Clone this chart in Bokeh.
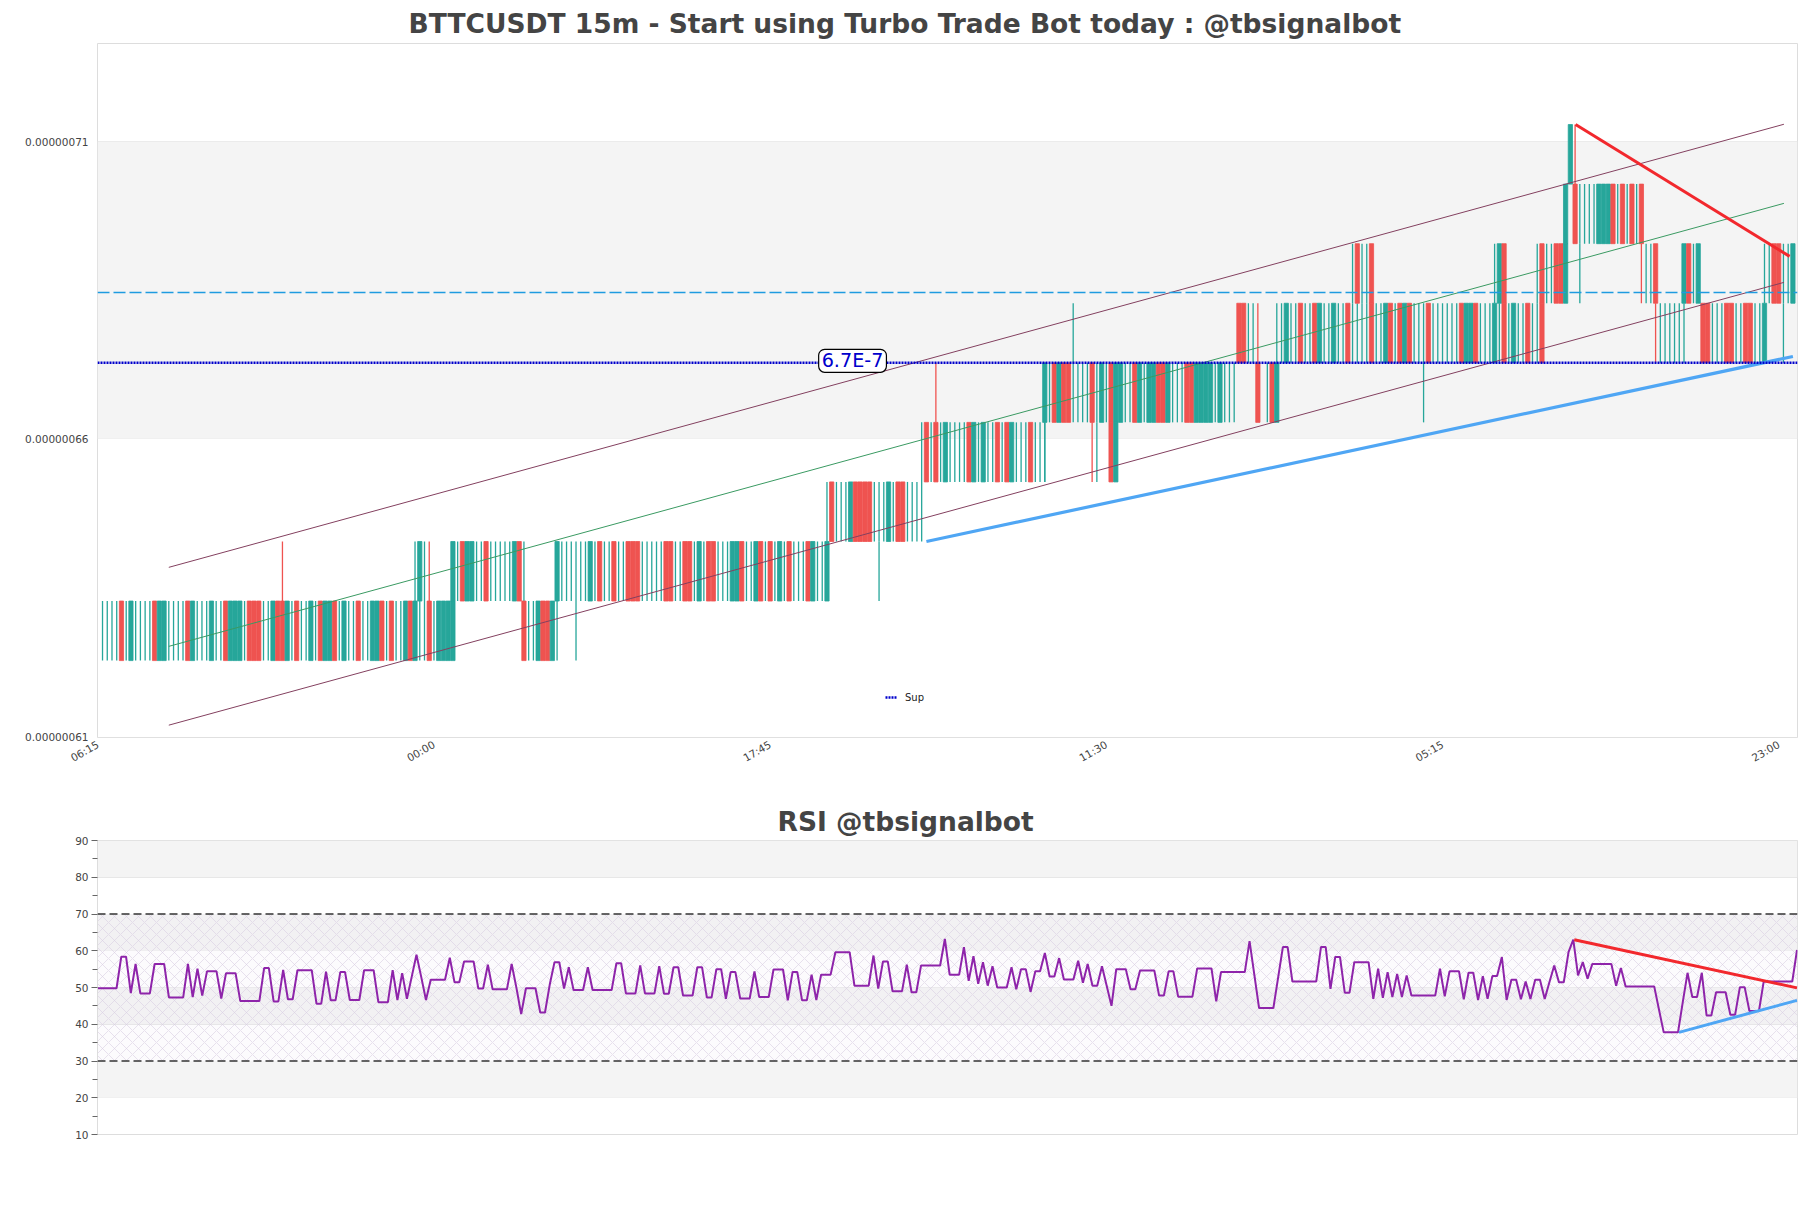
from bokeh.plotting import figure
from bokeh.layouts import column
from bokeh.models import BoxAnnotation, FixedTicker, Label, Range1d, Span, ColumnDataSource
from bokeh.embed import file_html
from bokeh.resources import INLINE

TITLE = "BTTCUSDT 15m - Start using Turbo Trade Bot today : @tbsignalbot"
RSI_TITLE = "RSI @tbsignalbot"
TEAL = "#26a69a"
RED = "#ef5350"
TEXT = "#444444"

# price levels of the tick grid (the asset only trades on these steps)
L = {62: 0.62e-6, 63: 0.63e-6, 64: 0.64e-6, 65: 0.65e-6, 66: 0.66e-6,
     67: 0.67e-6, 68: 0.68e-6, 69: 0.69e-6, 70: 0.70e-6, 71: 0.71e-6}

# candles read band by band: (first slot, band low, band high, pattern)
# g = up body, r = down body, l = doji at band low, t = doji at band high, . = nothing
bands = [
    (1, 62, 63, "llllrtgltllrgg" "llllrgtttgltrggg" "lrrrltgrrglrtlg" "lrggrtgllrtlggr" "trtlgrgltrlgggg"),
    (90, 62, 63, "rllgrrgl"),
    (67, 63, 64, "lgl"),
    (75, 63, 64, "glrggtlrllttlgrl"),
    (97, 63, 64, "gllllltg" "lrllrllrrr" "lllltrrllrrlglrr" "lllggrllgrlrlglr" "lllrgllg"),
    (154, 64, 65, "lrlllgrrrrlltglrrlltl"),
    (174, 65, 66, "lrlrlgllllrglgllrlrglllrlll"),
    (214, 65, 66, "rg"),
    (200, 66, 67, "glrgrrllllrlglrgg" "llrglggrrglllrr" "gggglglll"),
    (245, 66, 67, "r.lrg"),
    (241, 67, 68, "rrll"),
    (249, 67, 68, "llgllrllrg" "llgllrllllrllgr" "lrgrlllrllllllr" "ggrlllglrlgllrllr"),
    (330, 67, 68, "llllll"),
    (339, 67, 68, "rrlllrrllrrllg"),
    (265, 68, 69, "lrllr"),
    (295, 68, 69, "lgr"),
    (304, 68, 69, "lrllrrg"),
    (327, 68, 69, "llr"),
    (335, 68, 69, "grlg"),
    (352, 68, 69, "llrrllg"),
    (310, 69, 70, "g.rllllgggrlrlrlr"),
    (311, 70, 71, "g"),
]
# lone wicks: (slot, low, high, colour key)
wicks = [
    (39, 63, 64, "r"), (70, 63, 64, "r"), (101, 62, 63, "g"), (165, 63, 64, "g"),
    (177, 66, 67, "r"), (206, 67, 68, "g"), (200, 65, 66, "g"), (210, 65, 66, "r"),
    (211, 65, 66, "g"), (245, 67, 68, "r"), (280, 66, 67, "g"), (313, 68, 69, "g"),
    (326, 68, 69, "r"), (329, 67, 68, "r"), (356, 67, 68, "g"), (312, 70, 71, "r"),
]

channel_x = [15.0, 356.1]
channel_upper = [0.63566e-6, 0.71005e-6]
channel_mid = [0.62239e-6, 0.69677e-6]
channel_lower = [0.60916e-6, 0.6835e-6]
resistance_x = [312.1, 357.3]
resistance_y = [0.71e-6, 0.68787e-6]
support_x = [175.0, 358.0]
support_y = [0.64e-6, 0.67106e-6]
sup_level = 0.67e-6
res_dashed_level = 0.6818e-6

x_ticks = [0, 71, 142, 213, 284, 355]
x_tick_labels = ["06:15", "00:00", "17:45", "11:30", "05:15", "23:00"]
y_ticks = [0.60714e-6, 0.65723e-6, 0.70714e-6]
y_tick_labels = ["0.00000061", "0.00000066", "0.00000071"]

rsi = [
    49.8, 49.8, 49.8, 49.8, 49.8, 58.4, 58.4, 48.5, 56.4, 48.4, 48.4, 48.4, 56.4, 56.4, 56.4, 47.3, 47.3, 47.3, 47.3, 56.4,
    47.4, 55.1, 47.8, 54.4, 54.4, 54.4, 47.0, 53.9, 53.9, 53.9, 46.3, 46.3, 46.3, 46.3, 46.3, 55.3, 55.3, 46.2, 46.2, 54.8,
    46.8, 46.8, 54.7, 54.7, 54.7, 54.7, 45.6, 45.6, 54.3, 46.5, 46.5, 54.2, 54.2, 46.6, 46.6, 46.6, 54.7, 54.7, 54.7, 46.0,
    46.0, 46.0, 54.7, 46.6, 53.9, 46.9, 52.9, 58.9, 52.9, 46.6, 52.1, 52.1, 52.1, 52.1, 58.1, 51.4, 51.4, 57.1, 57.1, 57.1,
    49.7, 49.7, 56.2, 49.5, 49.5, 49.5, 49.5, 56.4, 49.9, 42.8, 49.8, 49.8, 49.8, 43.2, 43.2, 50.8, 56.9, 56.9, 49.7, 55.5,
    49.3, 49.3, 49.3, 55.5, 49.3, 49.3, 49.3, 49.3, 49.3, 56.6, 56.6, 48.4, 48.4, 48.4, 56.0, 48.4, 48.4, 48.4, 55.8, 48.3,
    48.3, 55.5, 55.5, 47.8, 47.8, 47.8, 55.5, 55.5, 47.3, 47.3, 55.0, 55.0, 46.9, 54.2, 54.2, 47.0, 47.0, 47.0, 54.4, 47.4,
    47.4, 47.4, 54.9, 54.9, 54.9, 46.5, 54.2, 54.2, 46.5, 46.5, 53.5, 46.6, 53.5, 53.5, 53.5, 59.6, 59.6, 59.6, 59.6, 50.5,
    50.5, 50.5, 50.5, 58.7, 49.7, 57.1, 57.1, 49.0, 49.0, 49.0, 56.2, 48.7, 48.7, 56.0, 56.0, 56.0, 56.0, 56.0, 63.2, 53.5,
    53.5, 53.5, 61.0, 51.8, 58.5, 51.0, 56.9, 50.5, 55.8, 50.0, 50.0, 50.0, 55.5, 49.5, 55.0, 55.0, 48.8, 54.4, 54.4, 59.4,
    53.0, 53.0, 58.0, 52.2, 52.2, 52.2, 57.3, 51.3, 56.4, 50.5, 50.5, 55.8, 50.4, 45.0, 55.0, 55.0, 55.0, 49.5, 49.5, 54.6,
    54.6, 54.6, 54.6, 47.8, 47.8, 54.4, 54.4, 47.5, 47.5, 47.5, 47.5, 55.2, 55.2, 55.2, 55.2, 46.2, 54.2, 54.2, 54.2, 54.2,
    54.2, 54.2, 62.6, 53.5, 44.4, 44.4, 44.4, 44.4, 52.7, 61.0, 61.0, 51.6, 51.6, 51.6, 51.6, 51.6, 51.6, 61.0, 61.0, 49.6,
    58.3, 58.3, 48.6, 48.6, 56.9, 56.9, 56.9, 56.9, 46.9, 55.1, 47.2, 54.2, 47.4, 53.7, 47.4, 53.3, 47.8, 47.8, 47.8, 47.8,
    47.8, 47.8, 55.1, 47.6, 54.4, 54.4, 54.4, 46.8, 54.0, 54.0, 46.6, 53.1, 46.9, 53.1, 53.1, 58.3, 46.6, 52.1, 52.1, 46.8,
    51.6, 46.9, 52.1, 52.1, 46.9, 51.5, 56.0, 51.4, 51.4, 59.6, 63.0, 53.3, 56.9, 52.4, 56.4, 56.4, 56.4, 56.4, 56.4, 50.5,
    55.3, 50.3, 50.3, 50.3, 50.3, 50.3, 50.3, 50.3, 44.0, 37.8, 37.8, 37.8, 37.8, 46.0, 54.0, 47.4, 47.4, 54.0, 42.4, 42.4,
    48.7, 48.7, 48.7, 42.6, 42.6, 50.1, 50.1, 43.6, 43.6, 43.6, 51.6, 51.6, 51.6, 51.6, 51.6, 51.6, 51.6, 60.2,
]
rsi_slots = list(range(len(rsi)))
rsi_res_x = [310.2, 357.0]
rsi_res_y = [63.0, 49.9]
rsi_sup_x = [332.2, 357.0]
rsi_sup_y = [37.8, 46.5]
rsi_major = [10, 20, 30, 40, 50, 60, 70, 80, 90]
rsi_minor = [15, 25, 35, 45, 55, 65, 75, 85]
rsi_grey_bands = [(80, 90), (60, 70), (40, 50), (20, 30)]
rsi_high, rsi_low = 70, 30

# ---------------------------------------------------------------- candles
body = {"x": [], "bottom": [], "top": [], "color": []}
doji = {"x": [], "y": []}
wick = {"x": [], "lo": [], "hi": [], "color": []}
for start, lo, hi, pattern in bands:
    for k, c in enumerate(pattern):
        slot = start + k
        if c in "gr":
            body["x"].append(slot); body["bottom"].append(L[lo]); body["top"].append(L[hi])
            body["color"].append(TEAL if c == "g" else RED)
        elif c in "lt":
            wick["x"].append(slot); wick["lo"].append(L[lo]); wick["hi"].append(L[hi])
            wick["color"].append(TEAL)
            doji["x"].append(slot); doji["y"].append(L[lo] if c == "l" else L[hi])
for slot, lo, hi, c in wicks:
    wick["x"].append(slot); wick["lo"].append(L[lo]); wick["hi"].append(L[hi])
    wick["color"].append(TEAL if c == "g" else RED)

p = figure(width=1803, height=790, output_backend="svg", toolbar_location=None,
           x_range=Range1d(-0.06, 358.97), y_range=Range1d(0.60709e-6, 0.72361e-6),
           min_border_left=97, min_border_right=6, min_border_top=43, min_border_bottom=53,
           background_fill_color="white", border_fill_color="white",
           outline_line_color="#dddddd")
p.title.text = TITLE
p.title.align = "left"
p.title.offset = 311
p.title.text_font = "DejaVu Sans"
p.title.text_font_style = "bold"
p.title.text_font_size = "26.5px"
p.title.text_color = TEXT
p.title.standoff = 10

p.add_layout(BoxAnnotation(bottom=y_ticks[1], top=y_ticks[2], fill_color="#f4f4f4", fill_alpha=1,
                           line_color=None, level="underlay"))
p.xgrid.visible = False
p.ygrid.ticker = FixedTicker(ticks=y_ticks)
p.ygrid.grid_line_color = "#e3e3e3"

p.xaxis.ticker = FixedTicker(ticks=x_ticks)
p.xaxis.major_label_overrides = dict(zip(x_ticks, x_tick_labels))
p.xaxis.major_label_orientation = 0.52
p.xaxis.major_label_text_font_size = "10.5px"
p.xaxis.major_label_text_color = TEXT
p.xaxis.major_label_text_font = "DejaVu Sans"
p.xaxis.major_label_standoff = 0
p.xaxis.major_tick_line_color = None
p.xaxis.minor_tick_line_color = None
p.xaxis.axis_line_color = None

p.yaxis.ticker = FixedTicker(ticks=y_ticks)
p.yaxis.major_label_overrides = dict(zip(y_ticks, y_tick_labels))
p.yaxis.major_label_text_font_size = "10.5px"
p.yaxis.major_label_text_color = TEXT
p.yaxis.major_label_text_font = "DejaVu Sans"
p.yaxis.major_label_standoff = 3
p.yaxis.major_tick_line_color = None
p.yaxis.minor_tick_line_color = None
p.yaxis.axis_line_color = None

p.segment("x", "lo", "x", "hi", source=ColumnDataSource(wick), color="color", line_width=1.3)
p.vbar(x="x", bottom="bottom", top="top", width=0.9, source=ColumnDataSource(body),
       fill_color="color", line_color="color", line_width=0.8)
p.rect(x="x", y="y", width=0.8, height=0, source=ColumnDataSource(doji), line_color=TEAL,
       fill_color=TEAL, line_width=1)

CH = "#83405f"
p.line(channel_x, channel_upper, line_color=CH, line_width=1)
p.line(channel_x, channel_mid, line_color="#3a9a62", line_width=1)
p.line(channel_x, channel_lower, line_color=CH, line_width=1)
p.line(resistance_x, resistance_y, line_color="#f2282d", line_width=3)
p.line(support_x, support_y, line_color="#4fa6f4", line_width=3.2)
p.line([-0.06, 358.97], [res_dashed_level, res_dashed_level], line_color="#1e9be0", line_width=1.3,
       line_dash=[12, 4])
p.line([-0.06, 358.97], [sup_level, sup_level], line_color="#0000cc", line_width=2.4,
       line_dash=[2, 1], legend_label="Sup")
p.legend.location = (788, 34)
p.legend.background_fill_alpha = 0
p.legend.border_line_color = None
p.legend.label_text_font_size = "10px"
p.legend.label_text_font = "DejaVu Sans"
p.legend.label_text_color = "#222222"
p.legend.glyph_width = 12
p.legend.glyph_height = 12
p.legend.label_standoff = 8
p.legend.padding = 4

p.add_layout(Label(x=159.4, y=sup_level, text="6.7E-7", text_color="#0000cc", text_font="DejaVu Sans",
                   text_font_size="19.2px", text_align="center", text_baseline="middle", y_offset=2,
                   background_fill_color="white", border_line_color="black", border_line_width=1.2,
                   border_radius=6, padding=(3, 0)))

# ---------------------------------------------------------------- RSI
r = figure(width=1803, height=394, output_backend="svg", toolbar_location=None,
           x_range=Range1d(0, 357.1), y_range=Range1d(10, 90),
           min_border_left=97, min_border_right=6, min_border_top=50, min_border_bottom=50,
           background_fill_color="white", border_fill_color="white",
           outline_line_color="#dddddd")
r.title.text = RSI_TITLE
r.title.align = "left"
r.title.offset = 680
r.title.text_font = "DejaVu Sans"
r.title.text_font_style = "bold"
r.title.text_font_size = "26.5px"
r.title.text_color = TEXT
r.title.standoff = 8

for lo, hi in rsi_grey_bands:
    r.add_layout(BoxAnnotation(bottom=lo, top=hi, fill_color="#f4f4f4", fill_alpha=1, line_color=None,
                               level="underlay"))
r.add_layout(BoxAnnotation(bottom=rsi_low, top=rsi_high, fill_color="#ece4f2", fill_alpha=0.15, line_color=None,
                           hatch_pattern="diagonal_cross", hatch_color="#d8cfe3", hatch_scale=12,
                           hatch_weight=0.6, level="underlay"))
r.xgrid.visible = False
r.xaxis.visible = False
r.ygrid.ticker = FixedTicker(ticks=rsi_major)
r.ygrid.grid_line_color = "#e3e3e3"
r.yaxis.ticker = FixedTicker(ticks=rsi_major, minor_ticks=rsi_minor)
r.yaxis.major_label_text_font_size = "10.5px"
r.yaxis.major_label_text_color = TEXT
r.yaxis.major_label_text_font = "DejaVu Sans"
r.yaxis.major_tick_in = 0
r.yaxis.major_tick_out = 6
r.yaxis.minor_tick_in = 0
r.yaxis.minor_tick_out = 5
r.yaxis.major_tick_line_color = "#666666"
r.yaxis.minor_tick_line_color = "#666666"
r.yaxis.axis_line_color = "#dddddd"
r.yaxis.major_label_standoff = 3

for lvl in (rsi_high, rsi_low):
    r.add_layout(Span(location=lvl, dimension="width", line_color="#333333", line_width=1.5, line_dash=[8, 4]))
r.line(rsi_slots, rsi, line_color="#8e24aa", line_width=2)
r.line(rsi_res_x, rsi_res_y, line_color="#f2282d", line_width=3)
r.line(rsi_sup_x, rsi_sup_y, line_color="#4fa6f4", line_width=3)

page = column(p, r, spacing=0)
open("out.html", "w").write(file_html(page, INLINE))
